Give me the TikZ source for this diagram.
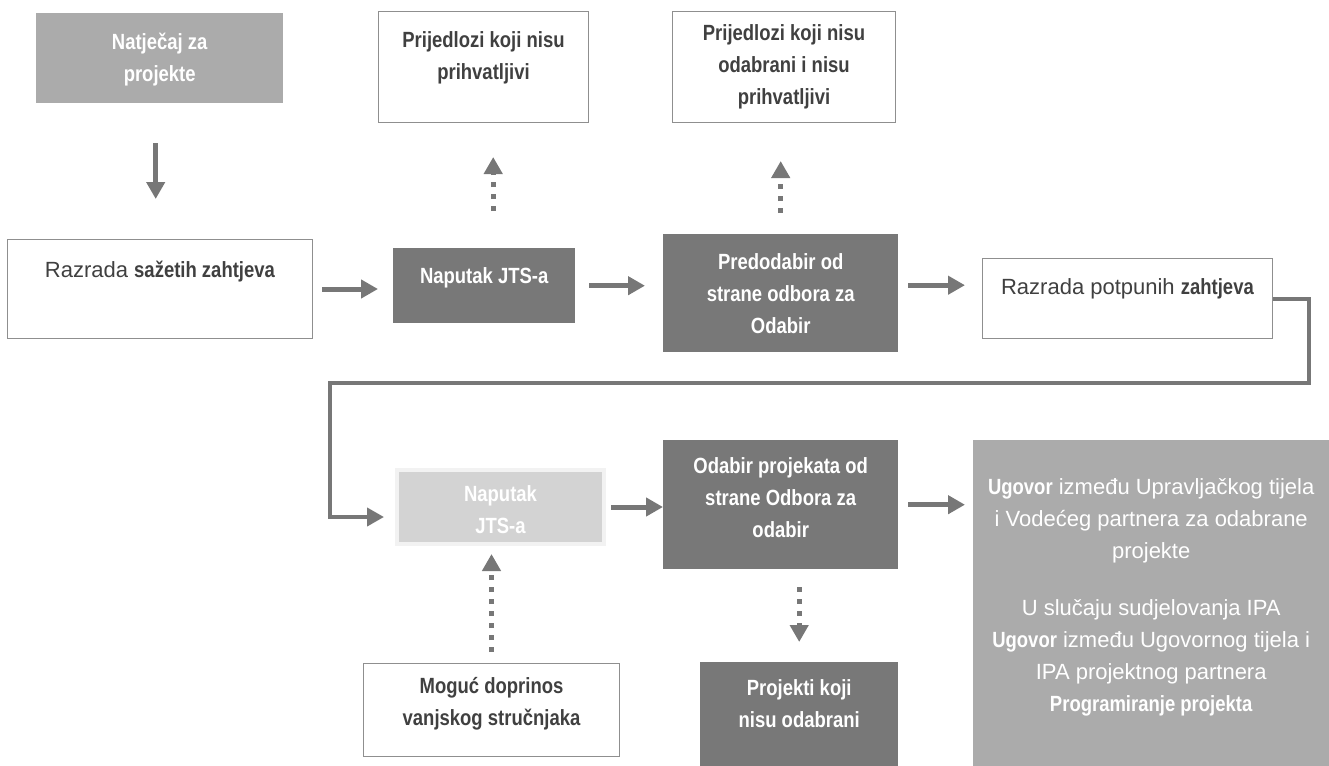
\documentclass[tikz,border=0pt]{standalone}
\usepackage{fontspec}
\setmainfont{Liberation Sans}[BoldFeatures={FakeStretch=0.84}]
\usepackage{tikz}
\usetikzlibrary{arrows.meta, positioning, calc}

\definecolor{boxdark}{HTML}{787878}
\definecolor{boxmid}{HTML}{ABABAB}
\definecolor{boxlight}{HTML}{D3D3D3}
\definecolor{boxrim}{HTML}{F2F2F2}
\definecolor{linegray}{HTML}{777777}
\definecolor{textgray}{HTML}{404040}
\definecolor{framegray}{HTML}{8F8F8F}

% width, height, first baseline, text
\newcommand{\boxtext}[4]{\parbox[c][#2pt][t]{#1pt}{\centering\rule{0pt}{#3pt}#4}}

\tikzset{
  base/.style={anchor=north west, inner sep=0pt, font=\fontsize{22}{32}\selectfont\bfseries},
  regular/.style={font=\fontsize{22}{32}\selectfont},
  plain/.style={base, draw=framegray, line width=1pt, fill=white, text=textgray},
  dark/.style={base, fill=boxdark, text=white},
  mid/.style={base, fill=boxmid, text=white},
  faded/.style={base, draw=boxrim, line width=4pt, fill=boxlight, text=white},
  flow/.style={draw=linegray, line width=5pt, -{Triangle[width=18pt,length=17pt]}},
  maybe/.style={draw=linegray, line width=5pt, dash pattern=on 5pt off 7pt, -{Triangle[width=18pt,length=17pt]}},
  link/.style={draw=linegray, line width=4pt, -{Triangle[width=18pt,length=17pt]}}
}

\begin{document}
\begin{tikzpicture}[x=1pt, y=-1pt]
  \useasboundingbox (0,0) rectangle (1329,765);
  % first stage
  \node[mid] (natjecaj) at (36,13) {\boxtext{247}{90}{36}{Natječaj za\\projekte}};
  \node[plain] (prih1) at (378,11) {\boxtext{210}{111}{36}{Prijedlozi koji nisu\\prihvatljivi}};
  \node[plain] (prih2) at (672,11) {\boxtext{223}{111}{29}{Prijedlozi koji nisu\\odabrani i nisu\\prihvatljivi}};
  \node[plain, regular] (sazeti) at (7,239) {\boxtext{305}{99}{38}{Razrada \textbf{sažetih zahtjeva}}};
  \node[dark] (naputak1) at (393,248) {\boxtext{182}{75}{35}{Naputak JTS-a}};
  \node[dark] (predodabir) at (663,234) {\boxtext{235}{118}{35}{Predodabir od\\strane odbora za\\Odabir}};
  \node[plain, regular] (potpuni) at (982,258) {\boxtext{290}{80}{36}{Razrada potpunih \textbf{zahtjeva}}};
  % second stage
  \node[faded] (naputak2) at (395,468) {\boxtext{207}{74}{31}{Naputak\\JTS-a}};
  \node[dark] (odabir) at (663,440) {\boxtext{235}{129}{33}{Odabir projekata od\\strane Odbora za\\odabir}};
  \node[dark] (projekti) at (700,662) {\boxtext{198}{120}{33}{Projekti koji\\nisu odabrani}};
  \node[plain] (mogucnost) at (363,663) {\boxtext{256}{93}{30}{Moguć doprinos\\vanjskog stručnjaka}};
  \node[mid, regular] (ugovor) at (973,440) {\boxtext{356}{340}{54}{\textbf{Ugovor} između Upravljačkog tijela\\i Vodećeg partnera za odabrane\\projekte\\[25pt]U slučaju sudjelovanja IPA\\\textbf{Ugovor} između Ugovornog tijela i\\IPA projektnog partnera\\\textbf{Programiranje projekta}}};

  \coordinate (turnR) at (1309,383);
  \coordinate (turnL) at (330,383);

  % main flow
  \draw[flow, shorten <=40pt, shorten >=40pt] ([xshift=-4pt]natjecaj.south) -- ([xshift=-4pt]natjecaj.south |- sazeti.north);
  \draw[flow, shorten <=9pt, shorten >=15pt] (sazeti.east) -- (sazeti.east -| naputak1.west);
  \draw[flow, shorten <=14pt, shorten >=18pt] (naputak1.east) -- (naputak1.east -| predodabir.west);
  \draw[flow, shorten <=10pt, shorten >=17pt] ([yshift=8pt]predodabir.east) -- ([yshift=8pt]predodabir.east -| potpuni.west);
  \draw[link, shorten >=11pt] (potpuni.east) -| (turnR) -- (turnL) |- ([yshift=-10pt]naputak2.west);
  \draw[flow, shorten <=5pt] (naputak2.east) -- (naputak2.east -| odabir.west);
  \draw[flow, shorten <=10pt, shorten >=8pt] (odabir.east) -- (odabir.east -| ugovor.west);

  % rejected or optional
  \draw[maybe, shorten <=37pt, shorten >=34pt] ([xshift=9pt]naputak1.north) -- ([xshift=9pt]naputak1.north |- prih1.south);
  \draw[maybe, shorten <=21pt, shorten >=38pt] (predodabir.north) -- (predodabir.north |- prih2.south);
  \draw[maybe, shorten <=18pt, shorten >=20pt] (odabir.south -| projekti.north) -- (projekti.north);
  \draw[maybe, shorten <=11pt, shorten >=8pt] (mogucnost.north) -- (mogucnost.north |- naputak2.south);
\end{tikzpicture}
\end{document}
